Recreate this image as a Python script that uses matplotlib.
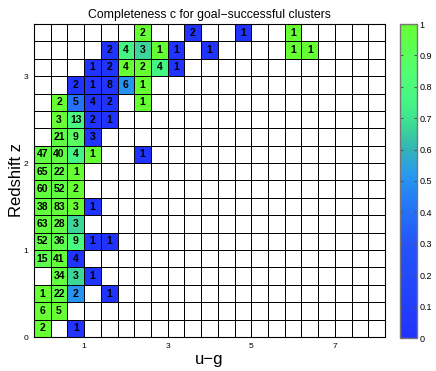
import numpy as np
import matplotlib
matplotlib.use("Agg")
import matplotlib.pyplot as plt
from matplotlib.colors import LinearSegmentedColormap

plt.rcParams['font.family'] = ['Liberation Sans', 'DejaVu Sans']

# bin edges
ug_min, ug_step, n_ug = -0.2, 0.4, 21
z_min, z_step, n_z = 0.0, 0.2, 18

# occupied cells: column index (u-g bin), row index (z bin), cluster count, completeness
cell_col = [6, 9, 12, 15,
            4, 5, 6, 7, 8, 10, 15, 16,
            3, 4, 5, 6, 7, 8,
            2, 3, 4, 5, 6,
            1, 2, 3, 4, 6,
            1, 2, 3, 4,
            1, 2, 3,
            0, 1, 2, 3, 6,
            0, 1, 2,
            0, 1, 2,
            0, 1, 2, 3,
            0, 1, 2,
            0, 1, 2, 3, 4,
            0, 1, 2,
            1, 2, 3,
            0, 1, 2, 4,
            0, 1,
            0, 2]
cell_row = [17, 17, 17, 17,
            16, 16, 16, 16, 16, 16, 16, 16,
            15, 15, 15, 15, 15, 15,
            14, 14, 14, 14, 14,
            13, 13, 13, 13, 13,
            12, 12, 12, 12,
            11, 11, 11,
            10, 10, 10, 10, 10,
            9, 9, 9,
            8, 8, 8,
            7, 7, 7, 7,
            6, 6, 6,
            5, 5, 5, 5, 5,
            4, 4, 4,
            3, 3, 3,
            2, 2, 2, 2,
            1, 1,
            0, 0]
cell_n = [2, 2, 1, 1,
          2, 4, 3, 1, 1, 1, 1, 1,
          1, 2, 4, 2, 4, 1,
          2, 1, 8, 6, 1,
          2, 5, 4, 2, 1,
          3, 13, 2, 1,
          21, 9, 3,
          47, 40, 4, 1, 1,
          65, 22, 1,
          60, 52, 2,
          38, 83, 3, 1,
          63, 28, 3,
          52, 36, 9, 1, 1,
          15, 41, 4,
          34, 3, 1,
          1, 22, 2, 1,
          6, 5,
          2, 1]
cell_c = [1.0, 0.0, 0.0, 1.0,
          0.0, 0.75, 0.67, 1.0, 0.0, 0.0, 1.0, 1.0,
          0.0, 0.0, 1.0, 1.0, 0.75, 0.0,
          0.0, 0.0, 0.0, 0.5, 1.0,
          1.0, 0.4, 0.0, 0.0, 1.0,
          1.0, 0.77, 0.0, 0.0,
          0.95, 0.89, 0.0,
          0.96, 0.95, 0.75, 1.0, 0.0,
          0.97, 0.95, 1.0,
          0.97, 0.96, 1.0,
          0.97, 0.98, 1.0, 0.0,
          0.97, 0.96, 0.67,
          0.96, 0.94, 0.78, 0.0, 0.0,
          0.93, 0.98, 0.0,
          0.97, 0.67, 0.0,
          1.0, 0.95, 0.5, 0.0,
          1.0, 1.0,
          1.0, 0.0]

x_ticks = [1, 3, 5, 7]
y_ticks = [0, 1, 2, 3]
cb_ticks = [0, 0.1, 0.2, 0.3, 0.4, 0.5, 0.6, 0.7, 0.8, 0.9, 1]
cb_labels = ['0', '0.1', '0.2', '0.3', '0.4', '0.5', '0.6', '0.7', '0.8', '0.9', '1']

cmap = LinearSegmentedColormap.from_list('bg', [
    (0.00, (0.13, 0.20, 1.00)),
    (0.30, (0.14, 0.33, 0.98)),
    (0.45, (0.15, 0.50, 0.96)),
    (0.52, (0.16, 0.60, 0.94)),
    (0.60, (0.20, 0.70, 0.72)),
    (0.68, (0.24, 0.86, 0.58)),
    (0.75, (0.27, 0.96, 0.52)),
    (0.85, (0.32, 1.00, 0.44)),
    (1.00, (0.40, 1.00, 0.20)),
])
cmap.set_bad('white')

grid = np.full((n_z, n_ug), np.nan)
for c, r, v in zip(cell_col, cell_row, cell_c):
    grid[r, c] = v
xe = ug_min + ug_step * np.arange(n_ug + 1)
ye = z_min + z_step * np.arange(n_z + 1)

fig = plt.figure(figsize=(4.36, 3.71), dpi=100)
ax = fig.add_axes([34/436, 1-337/371, 351/436, 313/371])
mesh = ax.pcolormesh(xe, ye, np.ma.masked_invalid(grid), cmap=cmap, vmin=0, vmax=1,
                     edgecolors='k', linewidth=0.7)
for c, r, n in zip(cell_col, cell_row, cell_n):
    ax.text(xe[c] + ug_step/2, ye[r] + z_step/2, str(n), ha='center', va='center',
            fontsize=7.5, fontweight='bold', color='black')
ax.set_xlim(xe[0], xe[-1])
ax.set_ylim(ye[0], ye[-1])
ax.set_xticks(x_ticks)
ax.set_yticks(y_ticks)
ax.tick_params(direction='in', length=0, labelsize=6, pad=4)
ax.set_xlabel('u\u2212g', fontsize=12, labelpad=2)
ax.set_ylabel('Redshift z', fontsize=12, labelpad=0)
ax.set_title('Completeness c for goal\u2212successful clusters', fontsize=8.8, pad=4)
for s in ax.spines.values():
    s.set_linewidth(0.8)

cax = fig.add_axes([400/436, 1-338/371, 17/436, 314/371])
cb = fig.colorbar(mesh, cax=cax, ticks=cb_ticks)
cb.ax.set_yticklabels(cb_labels)
cb.ax.tick_params(direction='in', length=2, labelsize=6.5, pad=2, left=True, color='#555555')
cb.outline.set_edgecolor('#777777')
cb.outline.set_linewidth(1.0)

fig.savefig('out.png', dpi=100)
